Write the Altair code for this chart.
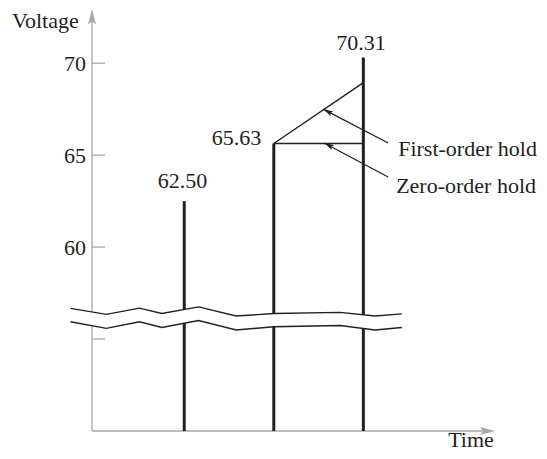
import altair as alt
import pandas as pd

# ---- data ----
sample_t = [1, 2, 3]
sample_v = [62.50, 65.63, 70.31]
sample_labels = ["62.50", "65.63", "70.31"]
label_t = [0.98, 1.584, 2.975]
label_v = [63.21, 65.55, 70.71]

y_tick_values = [55, 60, 65, 70]
y_label_values = [60, 65, 70]
y_label_texts = ["60", "65", "70"]

first_order_end_v = 68.94

break_t = [-0.27, 0.13, 0.50, 0.75, 1.16, 1.58, 2.00, 2.74, 3.13, 3.43]
break_upper = [56.67, 56.34, 56.68, 56.39, 56.75, 56.25, 56.39, 56.45, 56.25, 56.37]
break_lower = [55.94, 55.58, 55.94, 55.63, 56.01, 55.49, 55.67, 55.74, 55.49, 55.63]

arrow_names = ["First-order hold", "Zero-order hold"]
arrow_tail_t = [3.277, 3.277]
arrow_tail_v = [65.66, 63.81]
arrow_tip_t = [2.551, 2.562]
arrow_tip_v = [67.50, 65.66]
arrow_head_t = [2.610, 2.621]
arrow_head_v = [67.35, 65.52]
arrow_text_t = [3.389, 3.366]
arrow_text_v = [64.95, 62.94]

X_MIN, X_MAX = -0.03, 4.47
Y_MIN, Y_MAX = 50, 73

INK = "#231f20"
AXIS = "#a7a9ac"
FONT = "Liberation Serif"
FS = 22

xs = alt.Scale(domain=[X_MIN, X_MAX], nice=False, zero=False)
ys = alt.Scale(domain=[Y_MIN, Y_MAX], nice=False, zero=False)


def X(f):
    return alt.X(f, type="quantitative", scale=xs, axis=None)


def Y(f):
    return alt.Y(f, type="quantitative", scale=ys, axis=None)


ARROW = "M0,-1L0.45,0.7L0,0.35L-0.45,0.7Z"

# axes
axes_df = pd.DataFrame({
    "x": [X_MIN, X_MIN], "x2": [X_MIN, 4.372],
    "y": [Y_MIN, Y_MIN], "y2": [72.44, Y_MIN],
})
axes = alt.Chart(axes_df).mark_rule(color=AXIS, strokeWidth=1.3).encode(
    x=X("x"), x2="x2", y=Y("y"), y2="y2")

axis_heads_df = pd.DataFrame({"x": [X_MIN, 4.372], "y": [72.44, Y_MIN], "a": [0, 90]})
axis_heads = alt.Chart(axis_heads_df).mark_point(
    shape=ARROW, filled=True, size=324, color=AXIS, opacity=1, strokeWidth=0
).encode(x=X("x"), y=Y("y"), angle=alt.Angle("a:Q", scale=None))

ticks_df = pd.DataFrame({"v": y_tick_values, "x": [X_MIN] * 4, "x2": [0.115] * 4})
ticks = alt.Chart(ticks_df).mark_rule(color=AXIS, strokeWidth=1.3).encode(
    x=X("x"), x2="x2", y=Y("v"))

ylab_df = pd.DataFrame({"v": y_label_values, "txt": y_label_texts, "x": [-0.097] * 3})
ylabels = alt.Chart(ylab_df).mark_text(
    align="right", baseline="alphabetic", dy=8, font=FONT, fontSize=FS, color=INK
).encode(x=X("x"), y=Y("v"), text="txt:N")

titles_df = pd.DataFrame({"txt": ["Voltage", "Time"], "x": [-0.924, 3.947], "v": [71.91, 49.12]})
titles = alt.Chart(titles_df).mark_text(
    align="left", baseline="alphabetic", font=FONT, fontSize=FS, color=INK
).encode(x=X("x"), y=Y("v"), text="txt:N")

# stems
stems_df = pd.DataFrame({"t": sample_t, "v": sample_v, "base": [Y_MIN] * 3})
stems = alt.Chart(stems_df).mark_rule(color=INK, strokeWidth=3).encode(
    x=X("t"), y=Y("base"), y2="v")

vlab_df = pd.DataFrame({"t": label_t, "v": label_v, "txt": sample_labels})
vlabels = alt.Chart(vlab_df).mark_text(
    align="center", baseline="alphabetic", font=FONT, fontSize=FS, color=INK
).encode(x=X("t"), y=Y("v"), text="txt:N")

# holds
holds_df = pd.DataFrame({
    "x": [sample_t[1], sample_t[1]], "x2": [sample_t[2], sample_t[2]],
    "y": [sample_v[1], sample_v[1]], "y2": [first_order_end_v, sample_v[1]],
})
holds = alt.Chart(holds_df).mark_rule(color=INK, strokeWidth=1.4).encode(
    x=X("x"), x2="x2", y=Y("y"), y2="y2")

# break band
break_df = pd.DataFrame({"t": break_t, "up": break_upper, "lo": break_lower})
band = alt.Chart(break_df).mark_area(color="white", opacity=1).encode(
    x=X("t"), y=Y("up"), y2="lo")
up_line = alt.Chart(break_df).mark_line(color=INK, strokeWidth=1.4).encode(
    x=X("t"), y=Y("up"))
lo_line = alt.Chart(break_df).mark_line(color=INK, strokeWidth=1.4).encode(
    x=X("t"), y=Y("lo"))

# annotation arrows
arr_df = pd.DataFrame({
    "name": arrow_names,
    "x": arrow_tail_t, "y": arrow_tail_v, "x2": arrow_tip_t, "y2": arrow_tip_v,
    "hx": arrow_head_t, "hy": arrow_head_v,
    "tx": arrow_text_t, "ty": arrow_text_v,
})
shafts = alt.Chart(arr_df).mark_rule(color=INK, strokeWidth=1.3).encode(
    x=X("x"), x2="x2", y=Y("y"), y2="y2")
heads = alt.Chart(arr_df).mark_point(
    shape=ARROW, filled=True, size=144, color=INK, opacity=1, strokeWidth=0, angle=298
).encode(x=X("hx"), y=Y("hy"))
arr_text = alt.Chart(arr_df).mark_text(
    align="left", baseline="alphabetic", font=FONT, fontSize=FS, color=INK
).encode(x=X("tx"), y=Y("ty"), text="name:N")

chart = alt.layer(
    axes, ticks, stems, holds, band, up_line, lo_line,
    axis_heads, shafts, heads, ylabels, titles, vlabels, arr_text
).properties(
    width=403, height=423,
    padding={"left": 84, "top": 0, "right": 44, "bottom": 20},
    autosize=alt.AutoSizeParams(type="none"),
    background="white",
).configure_view(stroke=None)

chart.save("out.html", embed_options={"renderer": "svg", "actions": False})
